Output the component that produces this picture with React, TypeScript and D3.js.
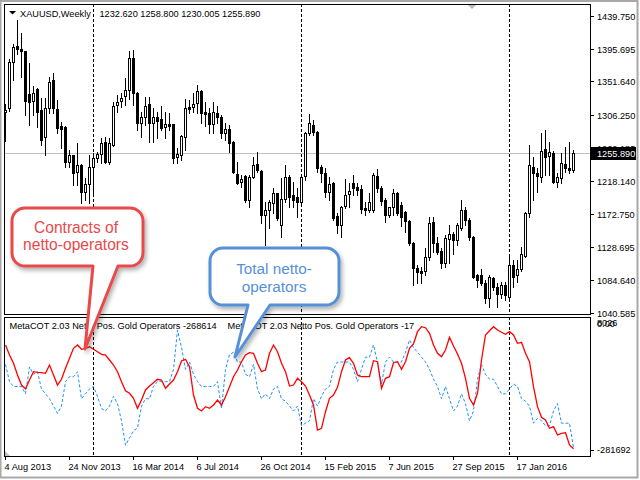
import React from 'react';
import * as d3 from 'd3';

// weekly XAUUSD bars, first bar = week of 4 Aug 2013
const firstWeek = '4 Aug 2013';
const opens = [1310, 1316, 1378, 1399, 1395, 1392, 1335, 1325, 1342, 1313, 1277, 1316, 1354, 1314, 1291, 1290, 1243, 1252, 1230, 1239,
  1203, 1214, 1237, 1249, 1254, 1270, 1243, 1266, 1320, 1325, 1332, 1340, 1383, 1336, 1296, 1304, 1321, 1296, 1304, 1301,
  1290, 1294, 1294, 1250, 1252, 1277, 1317, 1317, 1322, 1339, 1311, 1309, 1294, 1309, 1304, 1282, 1287, 1270, 1227, 1216,
  1225, 1192, 1223, 1240, 1231, 1172, 1178, 1188, 1201, 1159, 1193, 1223, 1199, 1196, 1190, 1224, 1282, 1293, 1284, 1237,
  1228, 1203, 1215, 1170, 1159, 1184, 1200, 1215, 1209, 1207, 1181, 1178, 1178, 1224, 1208, 1192, 1172, 1182, 1201, 1185,
  1176, 1164, 1134, 1100, 1097, 1096, 1115, 1163, 1134, 1124, 1107, 1139, 1146, 1138, 1155, 1178, 1165, 1142, 1091, 1091,
  1080, 1060, 1087, 1075, 1066, 1077, 1061, 1104, 1091, 1099, 1116, 1174, 1237, 1228, 1223, 1261, 1251, 1255, 1216, 1221,
  1240, 1235, 1232.62];
const highs = [1321, 1382, 1402, 1434, 1417, 1393, 1376, 1345, 1343, 1329, 1329, 1358, 1363, 1327, 1297, 1291, 1259, 1253, 1269, 1240,
  1221, 1252, 1255, 1257, 1275, 1277, 1275, 1324, 1333, 1336, 1356, 1392, 1394, 1337, 1311, 1331, 1331, 1316, 1311, 1318,
  1311, 1309, 1295, 1262, 1279, 1328, 1327, 1336, 1347, 1340, 1324, 1316, 1324, 1318, 1306, 1296, 1293, 1271, 1243, 1226,
  1226, 1226, 1250, 1257, 1232, 1190, 1192, 1208, 1202, 1221, 1239, 1226, 1216, 1208, 1224, 1283, 1308, 1300, 1285, 1239,
  1235, 1223, 1216, 1174, 1184, 1220, 1215, 1226, 1215, 1212, 1190, 1201, 1228, 1234, 1211, 1195, 1183, 1207, 1203, 1190,
  1177, 1165, 1135, 1104, 1102, 1127, 1169, 1169, 1142, 1127, 1145, 1158, 1149, 1161, 1192, 1183, 1168, 1143, 1093, 1099,
  1084, 1091, 1088, 1080, 1082, 1082, 1118, 1111, 1111, 1129, 1176, 1266, 1250, 1235, 1282, 1286, 1270, 1258, 1228, 1255,
  1264, 1270, 1258.8];
const lows = [1272, 1312, 1354, 1389, 1358, 1306, 1293, 1306, 1290, 1266, 1252, 1309, 1309, 1282, 1262, 1237, 1237, 1212, 1212, 1188,
  1192, 1188, 1199, 1243, 1242, 1242, 1240, 1265, 1311, 1317, 1320, 1328, 1320, 1286, 1277, 1293, 1270, 1270, 1275, 1286,
  1275, 1286, 1242, 1242, 1246, 1259, 1309, 1311, 1309, 1296, 1291, 1282, 1282, 1296, 1275, 1273, 1257, 1228, 1214, 1210,
  1190, 1183, 1221, 1230, 1161, 1131, 1154, 1174, 1165, 1142, 1190, 1183, 1183, 1169, 1188, 1219, 1279, 1279, 1230, 1216,
  1196, 1192, 1165, 1147, 1142, 1181, 1183, 1199, 1199, 1174, 1172, 1176, 1176, 1203, 1185, 1163, 1169, 1172, 1172, 1157,
  1149, 1131, 1077, 1080, 1080, 1091, 1111, 1122, 1120, 1100, 1102, 1107, 1120, 1131, 1151, 1158, 1138, 1087, 1075, 1077,
  1053, 1048, 1071, 1048, 1060, 1057, 1057, 1075, 1082, 1097, 1115, 1169, 1192, 1203, 1216, 1226, 1226, 1215, 1210, 1215,
  1230, 1228, 1230.005];
const closes = [1313, 1378, 1398, 1395, 1392, 1325, 1324, 1336, 1311, 1273, 1316, 1351, 1316, 1289, 1288, 1243, 1252, 1229, 1239, 1203,
  1213, 1237, 1248, 1254, 1269, 1243, 1269, 1318, 1324, 1329, 1340, 1383, 1336, 1296, 1304, 1318, 1296, 1304, 1299, 1289,
  1294, 1292, 1248, 1254, 1278, 1316, 1314, 1321, 1339, 1309, 1308, 1294, 1310, 1304, 1282, 1287, 1269, 1230, 1215, 1220,
  1192, 1223, 1239, 1232, 1172, 1178, 1189, 1202, 1168, 1193, 1223, 1196, 1192, 1190, 1223, 1282, 1296, 1283, 1235, 1229,
  1203, 1213, 1168, 1159, 1183, 1199, 1204, 1208, 1205, 1180, 1178, 1190, 1226, 1208, 1191, 1172, 1182, 1201, 1175, 1169,
  1164, 1134, 1100, 1095, 1094, 1115, 1161, 1134, 1122, 1107, 1141, 1146, 1138, 1158, 1178, 1165, 1142, 1088, 1084, 1080,
  1060, 1088, 1075, 1066, 1077, 1064, 1104, 1089, 1099, 1119, 1174, 1239, 1228, 1224, 1258, 1250, 1257, 1216, 1223, 1242,
  1235, 1232, 1255.89];

// MetaCOT netto positions of operators, contracts (red)
const nettoContracts = [-49100, -70200, -87800, -112500, -133700, -142100, -123100, -105500, -106800, -107600, -108900, -91400, -112500, -133700, -121600, -98300, -77200, -56000, -49100, -58200,
  -56000, -52700, -58200, -63200, -68700, -70200, -80800, -91400, -105500, -126700, -145700, -151200, -161800, -182900, -165400, -144200, -135800, -128800, -121600, -123100,
  -140600, -131500, -123100, -105500, -82900, -79300, -95000, -154800, -182900, -188600, -179500, -182900, -176000, -165400, -176000, -158400, -137300, -116100, -101900, -84400,
  -70200, -65400, -66600, -87800, -105500, -101900, -66600, -49100, -63200, -87800, -105500, -135800, -133700, -119500, -126700, -135800, -154800, -176000, -228800, -225200,
  -190100, -161800, -154800, -138500, -105500, -80800, -75900, -87800, -112500, -116100, -116100, -116100, -82300, -84400, -140600, -119500, -116100, -86500, -84400, -100500,
  -84400, -56000, -47000, -20900, -10400, -12500, -24300, -49100, -66600, -73800, -59600, -32800, -51200, -68100, -87800, -119500, -161800, -176000, -151200, -80800,
  -27900, -18800, -10400, -17400, -22200, -26400, -20900, -27900, -45500, -43400, -66600, -84400, -137300, -179500, -202000, -207700, -225200, -221800, -239400, -235800,
  -234500, -260500, -268614];
// total netto operators (blue)
const nettoOperators = [17, 10, 8, 8, 8, 5, 16, 13, 14, 7, 5, 3, 0, -3, 0, 10, 12, 12, 14, 3,
  5, 7, 8, 4, -1, -2, 0, 4, 1, -6, -16, -13, -10, -9, 0, 3, 3, 8, 10, 10,
  10, 10, 15, 31, 24, 15, 18, 13, 10, 8, 8, 8, 8, 10, -1, 15, 21, 22, 18, 18,
  13, 12, 17, 7, 3, 5, 3, 7, 8, 3, 2, 0, -2, 0, -8, -7, -6, 3, 0, 4,
  7, 8, 15, 18, 18, 18, 18, 15, 10, 15, 20, 20, 25, 18, 9, 18, 20, 18, 18, 18,
  22, 27, 24, 22, 20, 18, 15, 11, 8, 3, 8, 3, -2, 0, 5, 1, -6, -2, 11, 17,
  13, 11, 11, 8, 5, 5, 7, 9, 8, 3, 2, 0, -7, -5, -6, -8, -8, -2, 1, -7,
  -7, -7, -17];

const priceTicks = [1439.750, 1395.695, 1351.640, 1306.250, 1262.185, 1218.140, 1172.750, 1128.695, 1084.640, 1040.585];
const dateTicks = ['4 Aug 2013', '24 Nov 2013', '16 Mar 2014', '6 Jul 2014', '26 Oct 2014', '15 Feb 2015', '7 Jun 2015', '27 Sep 2015', '17 Jan 2016'];

const FONT = "'Liberation Sans', Arial, sans-serif";
const FS = 9.2;

const parseDate = d3.utcParse('%e %b %Y');

const callout = (x0: number, y0: number, x1: number, y1: number, r: number, xa: number, xb: number, tx: number, ty: number) =>
  `M${x0 + r},${y0} H${x1 - r} A${r},${r} 0 0 1 ${x1},${y0 + r} V${y1 - r} A${r},${r} 0 0 1 ${x1 - r},${y1} ` +
  `H${xb} L${tx},${ty} L${xa},${y1} H${x0 + r} A${r},${r} 0 0 1 ${x0},${y1 - r} V${y0 + r} A${r},${r} 0 0 1 ${x0 + r},${y0} Z`;

export default function App() {
  const n = closes.length;
  const start = parseDate(firstWeek) as Date;
  const weeks = d3.range(n).map(i => d3.utcWeek.offset(start, i));

  const left = 4, right = 590;
  const mainTop = 4, mainBottom = 314;
  const subTop = 317, subBottom = 456;

  const x = d3.scaleUtc().domain([weeks[0], weeks[n - 1]]).range([5, 5 + 4 * (n - 1)]);
  const cx = (i: number) => Math.round(x(weeks[i]));
  const yP = d3.scaleLinear().domain([1040.585, 1439.75]).range([312.5, 16]);
  const yR = d3.scaleLinear().domain([-281692, 8026]).range([455, 318]);
  const yB = d3.scaleLinear().domain([-20, 36]).range([455, 318]);

  const redLine = d3.line<number>().x((_, i) => cx(i) + 0.5).y(v => yR(v));
  const blueLine = d3.line<number>().x((_, i) => cx(i) + 0.5).y(v => yB(v));

  // year separators: first week of each new year
  const separators = weeks
    .map((d, i) => ({ d, i }))
    .filter(({ d, i }) => i > 0 && d.getUTCFullYear() !== weeks[i - 1].getUTCFullYear())
    .map(({ i }) => cx(i) + 0.5);

  const lastClose = closes[n - 1];
  const yLast = Math.round(yP(lastClose)) + 0.5;

  return (
    <svg width={640} height={480} style={{ position: 'absolute', left: 0, top: 0, background: '#fff' }}
      fontFamily={FONT}>
      <defs>
        <filter id="shadow" x="-20%" y="-20%" width="150%" height="150%">
          <feDropShadow dx="2" dy="3" stdDeviation="2" floodColor="#000" floodOpacity="0.3" />
        </filter>
        <clipPath id="mainClip"><rect x={left + 1} y={mainTop + 1} width={right - left - 1} height={mainBottom - mainTop - 1} /></clipPath>
        <clipPath id="subClip"><rect x={left + 1} y={subTop + 1} width={right - left - 1} height={subBottom - subTop - 1} /></clipPath>
      </defs>
      <rect x={0} y={0} width={640} height={480} fill="#fff" />
      <rect x={0.5} y={1} width={637} height={476.5} fill="none" stroke="#a8a8a8" strokeWidth={2} />

      {/* price panel */}
      <g clipPath="url(#mainClip)">
        <line x1={left} x2={right} y1={yLast} y2={yLast} stroke="#c0c0c0" shapeRendering="crispEdges" />
        {separators.map(sx => (
          <line key={sx} x1={sx} x2={sx} y1={mainTop} y2={mainBottom} stroke="#000" strokeDasharray="3,2" shapeRendering="crispEdges" />
        ))}
        {closes.map((c, i) => {
          const o = opens[i];
          const bx = cx(i);
          const bull = c >= o;
          const top = Math.round(yP(Math.max(o, c)));
          const bot = Math.round(yP(Math.min(o, c)));
          return (
            <g key={i} shapeRendering="crispEdges">
              <line x1={bx + 0.5} x2={bx + 0.5} y1={Math.round(yP(highs[i]))} y2={Math.round(yP(lows[i])) + 1} stroke="#000" />
              {bull ? (
                <rect x={bx - 0.5} y={top + 0.5} width={2} height={Math.max(1, bot - top)} fill="#fff" stroke="#000" />
              ) : (
                <rect x={bx - 1} y={top} width={3} height={Math.max(1, bot - top + 1)} fill="#000" />
              )}
            </g>
          );
        })}
      </g>
      <rect x={left + 0.5} y={mainTop + 0.5} width={right - left} height={mainBottom - mainTop} fill="none" stroke="#000" shapeRendering="crispEdges" />
      <polygon points="9,11 16,11 12.5,14.5" fill="#000" />
      <polygon points="468,5 476,5 472,9" fill="#b8b8b8" />
      <text x={20} y={16.5} fontSize={FS} fill="#000">XAUUSD,Weekly</text>
      <text x={99.5} y={16.5} fontSize={FS} fill="#000">
        {[opens[n - 1].toFixed(3), highs[n - 1].toFixed(3), lows[n - 1].toFixed(3), closes[n - 1].toFixed(3)].join(' ')}
      </text>

      {/* price axis */}
      {priceTicks.map(p => {
        const ty = Math.round(yP(p)) + 0.5;
        return (
          <g key={p}>
            <line x1={right} x2={right + 4} y1={ty} y2={ty} stroke="#000" shapeRendering="crispEdges" />
            <text x={597} y={ty + 3.3} fontSize={FS} fill="#000">{p.toFixed(3)}</text>
          </g>
        );
      })}
      <rect x={591} y={yLast - 6.5} width={45} height={13} fill="#000" />
      <text x={597} y={yLast + 3.3} fontSize={FS} fill="#fff">{lastClose.toFixed(3)}</text>

      {/* indicator panel */}
      <g clipPath="url(#subClip)">
        {separators.map(sx => (
          <line key={sx} x1={sx} x2={sx} y1={subTop} y2={subBottom} stroke="#000" strokeDasharray="3,2" shapeRendering="crispEdges" />
        ))}
        <path d={blueLine(nettoOperators) || ''} fill="none" stroke="#1e90ff" strokeWidth={1} strokeDasharray="3,2" />
        <path d={redLine(nettoContracts) || ''} fill="none" stroke="#ff0000" strokeWidth={1.3} />
      </g>
      <rect x={left + 0.5} y={subTop + 0.5} width={right - left} height={subBottom - subTop} fill="none" stroke="#000" shapeRendering="crispEdges" />
      <polygon points="5,451 5,456 10,456" fill="#c0c0c0" />
      <text x={9.5} y={329.3} fontSize={FS} fill="#000">
        {`MetaCOT 2.03 Netto Pos. Gold Operators ${nettoContracts[n - 1]}`}
      </text>
      <text x={227.5} y={329.3} fontSize={FS} fill="#000">
        {`MetaCOT 2.03 Netto Pos. Gold Operators ${nettoOperators[n - 1]}`}
      </text>
      <text x={597} y={yR(0) + 5.5} fontSize={FS} fill="#000">0.00</text>
      <text x={597} y={yR(d3.max(yR.domain()) as number) + 8.3} fontSize={FS} fill="#000">{d3.max(yR.domain())}</text>
      <text x={597} y={yR(d3.min(yR.domain()) as number) - 1.7} fontSize={FS} fill="#000">{d3.min(yR.domain())}</text>
      <line x1={right} x2={right + 4} y1={subBottom - 5.5} y2={subBottom - 5.5} stroke="#000" shapeRendering="crispEdges" />

      {/* time axis */}
      {dateTicks.map(t => {
        const tx = Math.round(x(parseDate(t) as Date)) + 0.5;
        return (
          <g key={t}>
            <line x1={tx} x2={tx} y1={subBottom} y2={subBottom + 4} stroke="#000" shapeRendering="crispEdges" />
            <text x={tx - 1} y={470.3} fontSize={FS} fill="#000">{t}</text>
          </g>
        );
      })}

      {/* callouts */}
      <g filter="url(#shadow)">
        <path d={callout(12, 208, 143, 266, 13, 93, 118, 85, 349)} fill="#fff" stroke="#e8494b" strokeWidth={3} strokeLinejoin="round" />
      </g>
      <text x={76} y={232.7} fontSize={15.6} fill="#e8494b" textAnchor="middle">Contracts of</text>
      <text x={76} y={250.3} fontSize={15.6} fill="#e8494b" textAnchor="middle">netto-operators</text>

      <g filter="url(#shadow)">
        <path d={callout(210, 248, 339, 305, 13, 248, 270, 235, 357)} fill="#fff" stroke="#5690d8" strokeWidth={3} strokeLinejoin="round" />
      </g>
      <text x={274} y={274} fontSize={15.3} fill="#5690d8" textAnchor="middle">Total netto-</text>
      <text x={274} y={291.7} fontSize={15.3} fill="#5690d8" textAnchor="middle">operators</text>
    </svg>
  );
}
